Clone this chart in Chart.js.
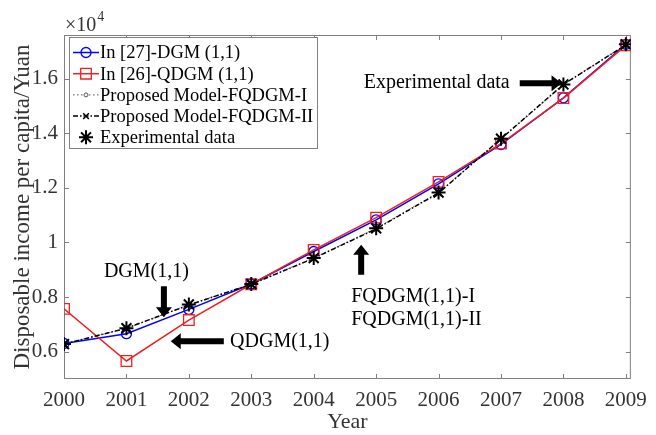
<!DOCTYPE html>
<html>
<head>
<meta charset="utf-8">
<script src="https://cdn.jsdelivr.net/npm/chart.js@4.4.1/dist/chart.umd.min.js"></script>
<style>
  html, body { margin: 0; padding: 0; background: #fff; }
  #wrap { width: 656px; height: 435px; }
</style>
</head>
<body>
<div id="wrap"><canvas id="chart" width="656" height="435"></canvas></div>
<script>
// values
const years = [2000, 2001, 2002, 2003, 2004, 2005, 2006, 2007, 2008, 2009];
const dgm = [6300, 6660, 7550, 8480, 9670, 10830, 12150, 13590, 15300, 17260];
const qdgm = [7570, 5660, 7160, 8470, 9730, 10910, 12220, 13620, 15290, 17220];
const fqdgm1 = [6290, 6850, 7720, 8480, 9430, 10520, 11830, 13790, 15780, 17250];
const fqdgm2 = [6280, 6860, 7710, 8470, 9420, 10500, 11810, 13800, 15790, 17240];
const experimental = [6280, 6860, 7730, 8480, 9430, 10520, 11830, 13800, 15790, 17260];
const yTicks = [6000, 8000, 10000, 12000, 14000, 16000];
const seriesNames = ['In [27]-DGM (1,1)', 'In [26]-QDGM (1,1)', 'Proposed Model-FQDGM-I', 'Proposed Model-FQDGM-II', 'Experimental data'];

const SERIF = '"Liberation Serif", "Times New Roman", serif';
const toXY = (arr) => arr.map((v, i) => ({ x: years[i], y: v }));

// text + arrows placed in data coordinates
const notes = [
  { text: 'DGM(1,1)', x: 2001.32, y: 8930, align: 'center' },
  { text: 'QDGM(1,1)', x: 2002.66, y: 6380, align: 'left' },
  { text: 'FQDGM(1,1)-I', x: 2004.6, y: 8020, align: 'left' },
  { text: 'FQDGM(1,1)-II', x: 2004.6, y: 7180, align: 'left' },
  { text: 'Experimental data', x: 2007.14, y: 15850, align: 'right' }
];
const arrows = [
  { from: [2001.6, 8400], to: [2001.6, 7260] },
  { from: [2002.56, 6380], to: [2001.71, 6380] },
  { from: [2004.76, 8820], to: [2004.76, 9920] },
  { from: [2007.30, 15830], to: [2007.97, 15830] }
];

function drawArrow(ctx, x1, y1, x2, y2) {
  const ang = Math.atan2(y2 - y1, x2 - x1);
  const len = Math.hypot(x2 - x1, y2 - y1);
  const headL = 10, headW = 8, shaft = 3;
  ctx.save();
  ctx.translate(x1, y1);
  ctx.rotate(ang);
  ctx.fillStyle = '#000';
  ctx.beginPath();
  ctx.moveTo(0, -shaft);
  ctx.lineTo(len - headL, -shaft);
  ctx.lineTo(len - headL, -headW);
  ctx.lineTo(len, 0);
  ctx.lineTo(len - headL, headW);
  ctx.lineTo(len - headL, shaft);
  ctx.lineTo(0, shaft);
  ctx.closePath();
  ctx.fill();
  ctx.restore();
}

const framePlugin = {
  id: 'frame',
  beforeDatasetsDraw(chart) {
    const { ctx, chartArea: a, scales } = chart;
    ctx.save();
    ctx.strokeStyle = '#808080';
    ctx.lineWidth = 1;
    ctx.strokeRect(a.left + 0.5, a.top + 0.5, a.right - a.left - 1, a.bottom - a.top - 1);
    ctx.beginPath();
    const tl = 5;
    years.forEach(yr => {
      const px = Math.round(scales.x.getPixelForValue(yr)) + 0.5;
      ctx.moveTo(px, a.bottom); ctx.lineTo(px, a.bottom - tl);
      ctx.moveTo(px, a.top); ctx.lineTo(px, a.top + tl);
    });
    yTicks.forEach(v => {
      const py = Math.round(scales.y.getPixelForValue(v)) + 0.5;
      ctx.moveTo(a.left, py); ctx.lineTo(a.left + tl, py);
      ctx.moveTo(a.right, py); ctx.lineTo(a.right - tl, py);
    });
    ctx.stroke();
    ctx.restore();
  },
  afterDraw(chart) {
    const { ctx, chartArea: a, scales } = chart;
    ctx.save();
    // x10^4 exponent label
    ctx.fillStyle = '#333';
    ctx.font = '20px ' + SERIF;
    ctx.textBaseline = 'alphabetic';
    ctx.textAlign = 'left';
    ctx.fillText('\u00d710', a.left + 1, a.top - 4);
    const w = ctx.measureText('\u00d710').width;
    ctx.font = '14px ' + SERIF;
    ctx.fillText('4', a.left + 2 + w, a.top - 14);

    // annotations
    ctx.fillStyle = '#000';
    ctx.font = '20px ' + SERIF;
    ctx.textBaseline = 'middle';
    notes.forEach(n => {
      ctx.textAlign = n.align;
      ctx.fillText(n.text, scales.x.getPixelForValue(n.x), scales.y.getPixelForValue(n.y));
    });
    arrows.forEach(ar => {
      drawArrow(ctx,
        scales.x.getPixelForValue(ar.from[0]), scales.y.getPixelForValue(ar.from[1]),
        scales.x.getPixelForValue(ar.to[0]), scales.y.getPixelForValue(ar.to[1]));
    });

    // legend box
    const lx = a.left + 5, ly = a.top + 2, lw = 248, lh = 111;
    ctx.fillStyle = '#fff';
    ctx.fillRect(lx, ly, lw, lh);
    ctx.strokeStyle = '#808080';
    ctx.lineWidth = 1;
    ctx.strokeRect(lx + 0.5, ly + 0.5, lw, lh);
    const rowH = 21.2;
    chart.data.datasets.forEach((ds, i) => {
      const cy = ly + 15.5 + i * rowH;
      const x0 = lx + 4, x1 = lx + 30, cx = (x0 + x1) / 2;
      ctx.save();
      if (ds.showLine !== false) {
        ctx.strokeStyle = ds.borderColor;
        ctx.lineWidth = ds.borderWidth;
        ctx.setLineDash(ds.borderDash || []);
        ctx.beginPath();
        ctx.moveTo(x0, cy); ctx.lineTo(x1, cy);
        ctx.stroke();
      }
      ctx.setLineDash([]);
      ctx.strokeStyle = ds.pointBorderColor;
      ctx.fillStyle = ds.pointBackgroundColor;
      ctx.lineWidth = ds.pointBorderWidth;
      Chart.helpers.drawPoint(ctx, { pointStyle: ds.pointStyle, radius: ds.pointRadius, rotation: 0, borderWidth: ds.pointBorderWidth }, cx, cy);
      ctx.restore();
      ctx.fillStyle = '#000';
      ctx.font = '18.5px ' + SERIF;
      ctx.textAlign = 'left';
      ctx.textBaseline = 'middle';
      ctx.fillText(seriesNames[i], x1 + 1, cy + 1);
    });
    ctx.restore();
  }
};

new Chart(document.getElementById('chart'), {
  type: 'line',
  data: {
    datasets: [
      {
        label: seriesNames[0], data: toXY(dgm), order: 4,
        borderColor: '#0000ff', borderWidth: 1.5,
        pointStyle: 'circle', pointRadius: 5, pointBorderWidth: 1.3,
        pointBorderColor: '#0000ff', pointBackgroundColor: 'rgba(0,0,0,0)'
      },
      {
        label: seriesNames[1], data: toXY(qdgm), order: 3,
        borderColor: '#f02020', borderWidth: 1.5,
        pointStyle: 'rect', pointRadius: 7.5, pointBorderWidth: 1.3,
        pointBorderColor: '#f02020', pointBackgroundColor: 'rgba(0,0,0,0)'
      },
      {
        label: seriesNames[2], data: toXY(fqdgm1), order: 2,
        borderColor: '#555555', borderWidth: 1, borderDash: [1.5, 2.5],
        pointStyle: 'circle', pointRadius: 2, pointBorderWidth: 1,
        pointBorderColor: '#555555', pointBackgroundColor: '#ffffff'
      },
      {
        label: seriesNames[3], data: toXY(fqdgm2), order: 1,
        borderColor: '#000000', borderWidth: 1.5, borderDash: [5, 2, 1.5, 2],
        pointStyle: 'crossRot', pointRadius: 4, pointBorderWidth: 1.5,
        pointBorderColor: '#000000', pointBackgroundColor: '#000000'
      },
      {
        label: seriesNames[4], data: toXY(experimental), order: 0, showLine: false,
        borderColor: '#000000', borderWidth: 0,
        pointStyle: 'star', pointRadius: 7, pointBorderWidth: 2,
        pointBorderColor: '#000000', pointBackgroundColor: '#000000'
      }
    ]
  },
  options: {
    responsive: false,
    animation: false,
    devicePixelRatio: 1,
    layout: { padding: { left: 0, right: 16, top: 35, bottom: 0 } },
    plugins: { legend: { display: false }, tooltip: { enabled: false } },
    elements: { line: { tension: 0 } },
    scales: {
      x: {
        type: 'linear', min: 2000, max: 2009.08,
        afterBuildTicks: (s) => { s.ticks = years.map(v => ({ value: v })); },
        afterFit: (s) => { s.height = 56; },
        grid: { display: false, drawTicks: false },
        border: { display: false },
        ticks: { color: '#333', padding: 9, maxRotation: 0, autoSkip: false,
          font: { family: SERIF, size: 21 }, callback: (v) => String(v) },
        title: { display: true, text: 'Year', color: '#333',
          font: { family: SERIF, size: 22 }, padding: { top: 0, bottom: 0 } }
      },
      y: {
        min: 5000, max: 17600,
        afterBuildTicks: (s) => { s.ticks = yTicks.map(v => ({ value: v })); },
        afterFit: (s) => { s.width = 64; },
        grid: { display: false, drawTicks: false },
        border: { display: false },
        ticks: { color: '#333', padding: 6,
          font: { family: SERIF, size: 21 }, callback: (v) => String(+(v / 10000).toFixed(1)) },
        title: { display: true, text: 'Disposable income per capita/Yuan', color: '#333',
          font: { family: SERIF, size: 23 }, padding: { top: 9, bottom: 0 } }
      }
    }
  },
  plugins: [framePlugin]
});
</script>
</body>
</html>
